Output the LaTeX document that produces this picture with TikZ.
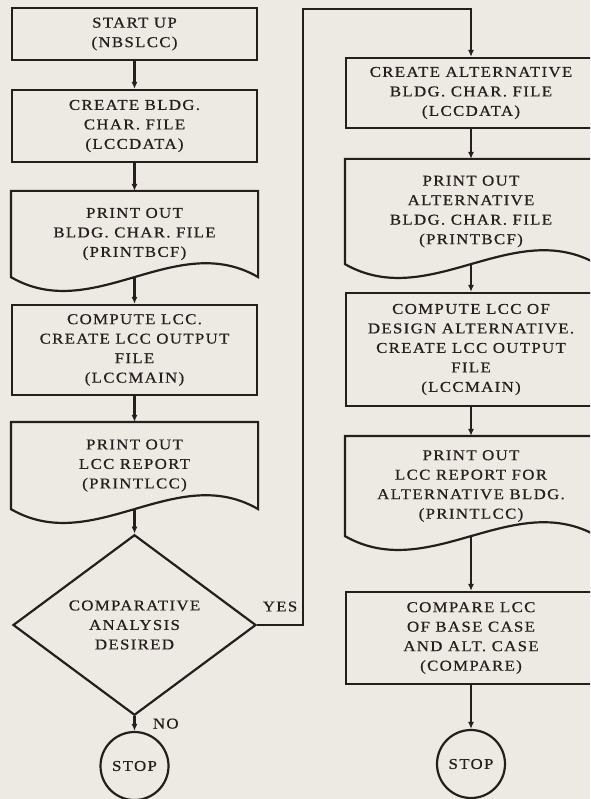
\documentclass[tikz,border=0pt]{standalone}
\usepackage{fontspec}
\setmainfont{Liberation Serif}[FakeStretch=1.12, LetterSpace=9, FakeBold=0.6]
\usepackage{tikz}
\usetikzlibrary{shapes, arrows.meta, calc, positioning}
\definecolor{paper}{RGB}{236,234,226}
\definecolor{ink}{RGB}{38,30,30}

\begin{document}
\begin{tikzpicture}[x=1pt, y=-1pt, line width=2.2pt, color=ink,
        every node/.style={font=\fontsize{15}{19.5}\selectfont, align=center},
        box/.style={draw, rectangle, inner sep=0pt},
        doc/.style={rectangle, inner sep=0pt},
        decide/.style={draw, diamond, inner sep=0pt, minimum width=243, minimum height=140},
        stopnode/.style={draw, circle, inner sep=0pt, minimum size=68},
        flow/.style={-{Latex[length=7pt, width=6pt]}}]
        \clip (0,0) rectangle (590,799);
        \fill[paper] (0,0) rectangle (590,799);

        % base case
        \begin{scope}
            \node[box, minimum width=245, minimum height=52] (start) at (134.5,34) {START UP\\(NBSLCC)};
            \node[box, minimum width=245, minimum height=72] (data) at (134.5,126) {CREATE BLDG.\\CHAR. FILE\\(LCCDATA)};
            \node[doc, minimum width=245, minimum height=84] (bcf) at (134.5,234) {PRINT OUT\\BLDG. CHAR. FILE\\(PRINTBCF)};
            \node[box, minimum width=245, minimum height=90] (main) at (134.5,350) {COMPUTE LCC.\\CREATE LCC OUTPUT\\FILE\\(LCCMAIN)};
            \node[doc, minimum width=245, minimum height=85] (rep) at (134.5,465.5) {PRINT OUT\\LCC REPORT\\(PRINTLCC)};
            \node[decide] (cmp) at (134.5,625) {COMPARATIVE\\ANALYSIS\\DESIRED};
            \node[stopnode] (stop) at (134.5,766) {STOP};

            \draw[flow] (start) -- (data);
            \draw[flow] (data) -- (bcf);
            \draw[flow] (bcf.south) -- (main);
            \draw[flow] (main) -- (rep);
            \draw[flow] (rep.south) -- (cmp);
            \draw[flow] (cmp) -- node[right=14pt] {NO} (stop);
        \end{scope}

        % alternative
        \begin{scope}
            \node[box, minimum width=250, minimum height=70] (adata) at (471,93) {CREATE ALTERNATIVE\\BLDG. CHAR. FILE\\(LCCDATA)};
            \node[doc, minimum width=250, minimum height=103] (abcf) at (471,211.5) {PRINT OUT\\ALTERNATIVE\\BLDG. CHAR. FILE\\(PRINTBCF)};
            \node[box, minimum width=250, minimum height=113] (amain) at (471,349.5) {COMPUTE LCC OF\\DESIGN ALTERNATIVE.\\CREATE LCC OUTPUT\\FILE\\(LCCMAIN)};
            \node[doc, minimum width=250, minimum height=98] (arep) at (471,486) {PRINT OUT\\LCC REPORT FOR\\ALTERNATIVE BLDG.\\(PRINTLCC)};
            \node[box, minimum width=250, minimum height=92] (comp) at (471,638) {COMPARE LCC\\OF BASE CASE\\AND ALT. CASE\\(COMPARE)};
            \node[stopnode] (astop) at (471,764) {STOP};

            \draw[flow] (adata) -- (abcf);
            \draw[flow] (abcf.south) -- (amain);
            \draw[flow] (amain) -- (arep);
            \draw[flow] (arep.south) -- (comp);
            \draw[flow] (comp) -- (astop);
        \end{scope}

        % printed output outlines
        \foreach \d in {bcf, rep, abcf, arep}{
            \draw (\d.south west) -- (\d.north west) -- (\d.north east) -- (\d.south east)
                .. controls ($(\d.south west)!2/3!(\d.south east)+(0,-48)$) and ($(\d.south west)!1/3!(\d.south east)+(0,48)$) .. (\d.south west) -- cycle;
        }

        % yes branch
        \coordinate (corner) at (303,9);
        \draw[flow] (cmp.east) -- node[above=9pt] {YES} (cmp.east -| corner) -- (corner) -| (adata.north);
    \end{tikzpicture}
\end{document}
